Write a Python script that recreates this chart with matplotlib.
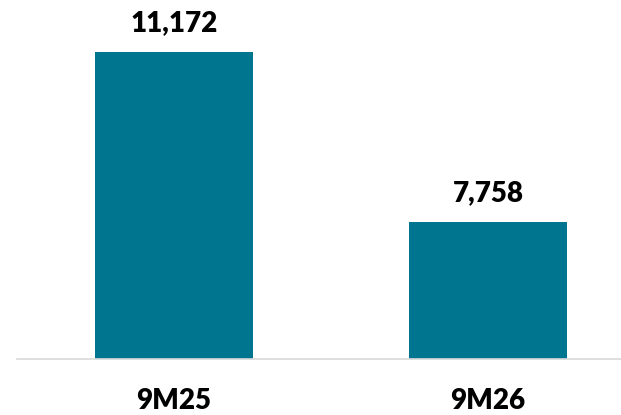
import matplotlib
matplotlib.use('Agg')
import matplotlib.pyplot as plt

periods = ['9M25', '9M26']
values = [11172, 7758]

bar_color = '#00758F'

fig = plt.figure(figsize=(6.21, 4.15), dpi=100)
ax = fig.add_axes([17/621, 56/415, 628/621, 348/415])

x = range(len(periods))
ax.bar(x, values, width=0.503, color=bar_color, zorder=2)
ax.set_xlim(-0.5, 1.5)
ax.set_ylim(5000, 12000)

for i, v in enumerate(values):
    ax.text(i, v + 320, f'{v:,}', ha='center', va='bottom',
            fontsize=20, fontweight='heavy', family='Lato', color='black')

ax.set_xticks(list(x))
ax.set_xticklabels(periods, fontsize=20, fontweight='heavy', family='Lato')
ax.tick_params(axis='x', length=0, pad=21)
ax.set_yticks([])

for s in ['top', 'right', 'left']:
    ax.spines[s].set_visible(False)
ax.spines['bottom'].set_color('#D9D9D9')
ax.spines['bottom'].set_linewidth(1.2)

fig.savefig('out.png', dpi=100)
